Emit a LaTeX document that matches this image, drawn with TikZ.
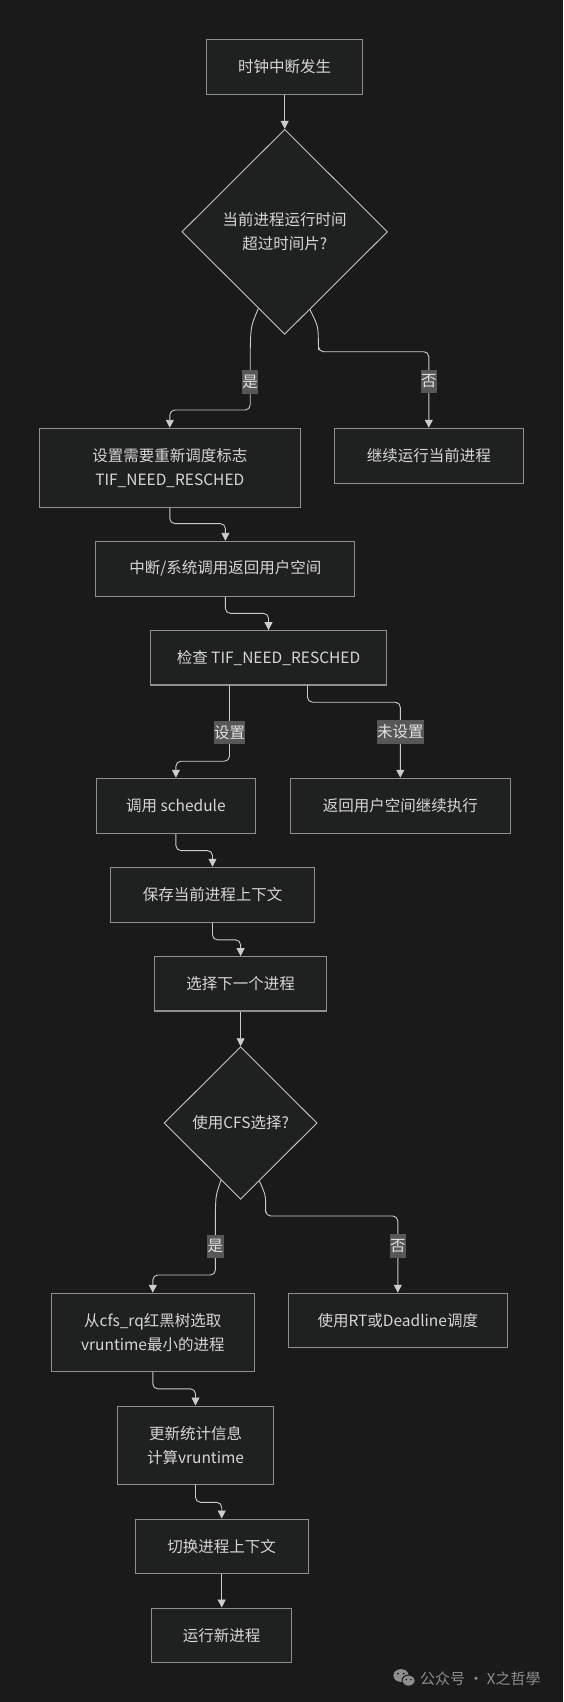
\documentclass[tikz,border=0pt]{standalone}
\usepackage{fontspec}
\newfontfamily\cjk{Noto Sans CJK SC}
\usetikzlibrary{shapes.geometric,arrows.meta}
\definecolor{bg}{HTML}{1A1A1A}
\definecolor{nodefill}{HTML}{1F2120}
\definecolor{nodeline}{HTML}{8F8F8F}
\definecolor{dialine}{HTML}{C4C4C4}
\definecolor{txt}{HTML}{D6D6D6}
\definecolor{edgec}{HTML}{CCCCCC}
\definecolor{lblfill}{HTML}{575757}
\definecolor{lbltxt}{HTML}{E2E2E2}
\definecolor{wm}{HTML}{8E8E8E}
\begin{document}
\begin{tikzpicture}[x=1pt,y=-1pt,
  box/.style={draw=nodeline, line width=1.1pt, fill=nodefill, text=txt,
    font=\cjk\fontsize{15.5}{24}\selectfont, align=center, inner sep=0pt},
  dia/.style={diamond, aspect=1, draw=dialine, line width=0.9pt, fill=nodefill, text=txt,
    font=\cjk\fontsize{15.5}{24}\selectfont, align=center, inner sep=0pt},
  edge/.style={draw=edgec, line width=0.9pt, rounded corners=5pt,
    -{Triangle[length=8pt,width=8pt]}},
  lbl/.style={fill=lblfill, text=lbltxt, font=\cjk\fontsize{15.5}{20}\selectfont,
    inner xsep=0.4pt, inner ysep=0pt, minimum height=23.5pt, rounded corners=0pt},
  wmtext/.style={text=wm, font=\cjk\fontsize{15}{18}\selectfont, inner sep=0pt, anchor=west}
]
\fill[bg] (0,0) rectangle (563,1702);
\useasboundingbox (0,0) rectangle (563,1702);

% nodes
\node[box, minimum width=156pt, minimum height=55pt] (b1) at (284.7,66.8) {时钟中断发生};
\node[dia, minimum width=205.7pt, minimum height=205pt] (d1) at (284.7,231.8) {当前进程运行时间\\超过时间片?};
\node[box, minimum width=260.6pt, minimum height=78.7pt] (b2) at (169.8,467.7) {设置需要重新调度标志\\TIF\_NEED\_RESCHED};
\node[box, minimum width=189pt, minimum height=55pt] (b3) at (428.8,455.8) {继续运行当前进程};
\node[box, minimum width=259pt, minimum height=54.7pt] (b4) at (225.4,568.7) {中断/系统调用返回用户空间};
\node[box, minimum width=236pt, minimum height=54.3pt] (b5) at (268.5,657.8) {检查 TIF\_NEED\_RESCHED};
\node[box, minimum width=159.4pt, minimum height=55pt] (b6) at (175.9,805.8) {调用 schedule};
\node[box, minimum width=219.7pt, minimum height=55pt] (b7) at (400.3,805.8) {返回用户空间继续执行};
\node[box, minimum width=204.7pt, minimum height=55pt] (b8) at (212.5,894.8) {保存当前进程上下文};
\node[box, minimum width=172pt, minimum height=54.3pt] (b9) at (240.6,983.8) {选择下一个进程};
\node[dia, minimum width=153pt, minimum height=152.6pt] (d2) at (240.6,1123) {使用CFS选择?};
\node[box, minimum width=202.9pt, minimum height=78pt] (b10) at (152.8,1332.3) {从cfs\_rq红黑树选取\\vruntime最小的进程};
\node[box, minimum width=219pt, minimum height=54pt] (b11) at (397.8,1320.3) {使用RT或Deadline调度};
\node[box, minimum width=156.2pt, minimum height=78.3pt] (b12) at (195.5,1445.2) {更新统计信息\\计算vruntime};
\node[box, minimum width=172.7pt, minimum height=54.3pt] (b13) at (221.7,1546.2) {切换进程上下文};
\node[box, minimum width=140.4pt, minimum height=54.3pt] (b14) at (221.7,1635.2) {运行新进程};

% connectors
\draw[edge] (b1.south) -- (d1.north);
\draw[edge] (d1.251) .. controls (251,326) .. (250.2,350)
  -- node[lbl, pos=0.53] (l1) {是} (250.2,410) -| (b2.north);
\draw[edge] (d1.288) .. controls (318,326) .. (318.5,345)
  -- (318.5,351.7) -| node[lbl, pos=0.695] (l2) {否} (b3.north);
\draw[edge] (b2.south) -- ++(0,16) -| (b4.north);
\draw[edge] (b4.south) -- ++(0,16.7) -| (b5.north);
\draw[edge] ([xshift=-39pt]b5.south) -- node[lbl, pos=0.62] (l3) {设置} ++(0,75.7) -| (b6.north);
\draw[edge] ([xshift=39pt]b5.south) -- ++(0,16.7) -| node[lbl, pos=0.698] (l4) {未设置} (b7.north);
\draw[edge] (b6.south) -- ++(0,16.7) -| (b8.north);
\draw[edge] (b8.south) -- ++(0,17) -| (b9.north);
\draw[edge] (b9.south) -- (d2.north);
\draw[edge] (d2.251) .. controls (216,1195) .. (215.4,1210)
  -- node[lbl, pos=0.56] (l5) {是} (215.4,1275) -| (b10.north);
\draw[edge] (d2.288) .. controls (265.5,1195) .. (265.7,1208)
  -- (265.7,1216) -| node[lbl, pos=0.696] (l6) {否} (b11.north);
\draw[edge] (b10.south) -- ++(0,17) -| (b12.north);
\draw[edge] (b12.south) -- ++(0,17.4) -| (b13.north);
\draw[edge] (b13.south) -- (b14.north);

% watermark
\fill[wm] (401,1675.5) ellipse (7.6pt and 6.4pt);
\fill[bg] (398,1673.5) circle (1pt);
\fill[bg] (403.8,1673.5) circle (1pt);
\filldraw[fill=wm, draw=bg, line width=1pt] (408.6,1680.6) ellipse (6.6pt and 5.6pt);
\fill[bg] (406.3,1679.6) circle (0.9pt);
\fill[bg] (410.9,1679.6) circle (0.9pt);
\node[wmtext] (wmark) at (420,1679) {公众号 · X之哲學};
\end{tikzpicture}
\end{document}
